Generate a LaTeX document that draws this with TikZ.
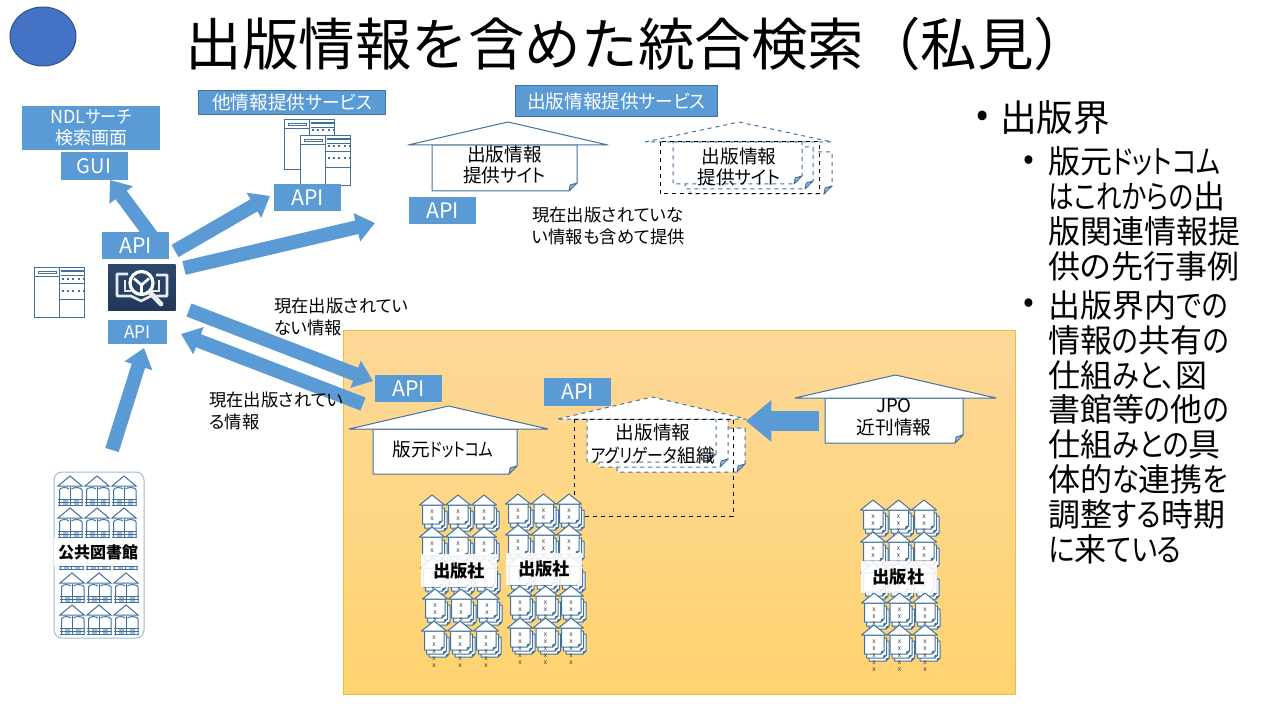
\documentclass[tikz,border=0pt]{standalone}
\usepackage{fontspec}
\usepackage{graphicx}
\setmainfont[RawFeature={+palt}]{Noto Sans CJK JP}
\newfontfamily\titlefont{Noto Sans CJK JP}
\usepackage{xcolor}
\usetikzlibrary{arrows.meta,calc}

\definecolor{boxblue}{RGB}{91,155,213}
\definecolor{edgeblue}{RGB}{65,113,156}
\definecolor{foldblue}{RGB}{160,185,215}
\definecolor{panelline}{RGB}{160,185,215}
\definecolor{markblue}{RGB}{68,114,196}
\definecolor{markedge}{RGB}{47,82,143}
\definecolor{logowhite}{RGB}{232,236,240}

\newcommand{\fs}[2]{\fontsize{#1}{#2}\selectfont}
% narrow kana
\newcommand{\kn}[2][0.8]{\scalebox{#1}[1]{#2}}

% page with a turned corner: x0,y0,x1,y1
\def\foldsize{8}
\newcommand{\foldpage}[5][]{
    \draw [pageline,#1] (#2,#3) -- (#4,#3) -- (#4,#5-\foldsize) -- (#4-\foldsize,#5) -- (#2,#5) -- cycle;
    \draw [pageline,fill=foldblue,solid] (#4,#5-\foldsize) -- (#4-\foldsize*0.85,#5-\foldsize*0.75) -- (#4-\foldsize,#5) -- cycle;
}
% roof: left,right,base,apex
\newcommand{\roofline}[5][]{
    \draw [pageline,#1] (#2,#4) -- ({(#2+#3)/2},#5) -- (#3,#4) -- cycle;
}

\tikzset{
    pageline/.style={draw=edgeblue,fill=white,line width=0.75pt,line join=round},
    apibox/.style={fill=boxblue,text=white,inner sep=0pt,minimum width=50.25pt,minimum height=20.25pt,font=\fs{16}{18}},
    headbox/.style={fill=boxblue,draw=edgeblue,line width=0.75pt,text=white,inner sep=0pt,font=\fs{14}{16}},
    fatarrow/.style={draw=boxblue,line width=10.5pt,-{Triangle[length=14pt,width=21pt]}},
    sitetext/.style={align=center,inner sep=0pt,font=\fs{14}{15.75}},
    notetext/.style={align=left,anchor=west,inner sep=0pt,font=\fs{13}{16.5}},
    sidetext/.style={align=left,anchor=west,inner sep=0pt,font=\fs{24}{26.1}},
    groupname/.style={fill=white,fill opacity=0.88,text opacity=1,inner sep=0pt,font=\fs{13}{15}\bfseries},
    pubicon/.pic={
        \def\foldsize{3}
        \foldpage{-5}{16}{15}{36}
        \foldpage{-7.5}{13}{12.5}{33}
        \foldpage{-9.5}{10}{10}{29}
        \roofline{-12.5}{12.5}{10}{0}
        \node (-marks) at (0,31) [align=center,inner sep=0pt,text=black!75,font=\fs{5}{5.25}] {x\\x\\x\\x\\x};
    },
    libicon/.pic={
        \fill [foldblue] (-7,23.5) rectangle (-2,29) (4,23.5) rectangle (9,29);
        \draw [edgeblue,line width=0.75pt] (-12,10) -- (0,0) -- (12,10) -- cycle;
        \draw [edgeblue,line width=0.75pt] (-10.5,30) -- (-10.5,14) .. controls (-10.5,11) and (-2,11) .. (-1,13);
        \draw [edgeblue,line width=0.75pt] (1.5,13) .. controls (2.5,11) and (12,11) .. (12,14) -- (12,30);
        \draw [edgeblue,line width=1.2pt] (0.3,11) -- (0.3,30);
        \draw [edgeblue,line width=0.6pt] (-12,23.5) -- (13,23.5) (-12,26.5) -- (13,26.5) (-12,29.5) -- (13,29.5);
    },
    winicon/.pic={
        \draw [edgeblue,fill=white,line width=0.75pt] (0,0) rectangle (50,50);
        \draw [edgeblue,line width=0.75pt] (25,0) -- (25,50) (0,9) -- (25,9) (25,32) -- (50,32) (25,16) -- (50,16);
        \draw [edgeblue,line width=0.6pt] (4,3.5) rectangle (22,6.3);
        \draw [edgeblue,line width=1.5pt] (26,3.5) -- (49,3.5);
        \draw [edgeblue,line width=0.6pt] (26,7.7) -- (49,7.7);
        \draw [edgeblue,line width=1.5pt,dash pattern=on 1.5pt off 2.5pt] (27,11) -- (49,11) (27,23) -- (49,23);
    },
}

\begin{document}
\begin{tikzpicture}[x=0.75pt,y=-0.75pt]
    \useasboundingbox (0,0) rectangle (1280,720);

    % Title and mark
    \draw [fill=markblue,draw=markedge,line width=0.75pt] (43,36.5) ellipse (33 and 29.5);
    \node (title) at (638,44) [inner sep=0pt,font=\titlefont\fs{42.4}{46}] {出版情報を含めた統合検索（私見）};

    % Orange area
    \shade [top color={rgb,255:red,253;green,216;blue,152},bottom color={rgb,255:red,255;green,211;blue,112},draw={rgb,255:red,240;green,185;blue,70},line width=0.75pt] (343.5,330.5) rectangle (1015,694.5);

    % Arrow ends
    \coordinate (guistart) at (153,238);
    \coordinate (guiend) at (110,180);
    \coordinate (otherstart) at (175,251);
    \coordinate (otherend) at (270,196);
    \coordinate (sitestart) at (184,268);
    \coordinate (siteend) at (375,223);
    \coordinate (pubstart) at (189,310);
    \coordinate (pubend) at (373,381);
    \coordinate (backstart) at (363,404);
    \coordinate (backend) at (181,334);
    \coordinate (libstart) at (112,450);
    \coordinate (libend) at (144,348);
    \coordinate (jpostart) at (819,421);
    \coordinate (jpoend) at (746,421);

    \draw [fatarrow] (guistart) -- (guiend);
    \draw [fatarrow] (otherstart) -- (otherend);
    \draw [fatarrow] (sitestart) -- (siteend);
    \draw [fatarrow] (pubstart) -- (pubend);
    \draw [fatarrow] (backstart) -- (backend);
    \draw [fatarrow] (libstart) -- (libend);
    \draw [draw=boxblue,line width=15pt,-{Triangle[length=19pt,width=30pt]}] (jpostart) -- (jpoend);

    % Left column
    \node (ndlhead) at (91,128) [fill=boxblue,text=white,inner sep=0pt,minimum width=103.5pt,minimum height=33pt,align=center,font=\fs{13.5}{15.5}] {NDL\kn[0.9]{サーチ}\\検索画面};
    \node (gui) at (94,166) [apibox,minimum height=21pt,font=\fs{15}{18}] {GUI};
    \node (apitop) at (135.5,245.5) [apibox] {API};
    \node (apilow) at (137.5,332) [apibox,minimum width=44.25pt,minimum height=18pt,font=\fs{13}{15}] {API};
    \pic at (34.5,267.5) {winicon};

    % Search logo
    \shade [top color={rgb,255:red,45;green,72;blue,107},bottom color={rgb,255:red,33;green,56;blue,90}] (108,264) rectangle (175.5,310);
    \draw [logowhite,line width=2pt,line join=round] (128,274) -- (117,274) -- (117,296) -- (131,296) -- (141,301) -- (151,296) -- (167,296) -- (167,275) -- (156,275);
    \draw [logowhite,line width=1.2pt] (125,280) -- (125,291) -- (131,291);
    \draw [logowhite,line width=1.2pt] (159,280) -- (159,291) -- (152,291);
    \draw [white,line width=2.4pt] (141.5,283) circle (11.5);
    \draw [white,line width=2pt] (141.5,285) -- (141.5,294) (141.5,285) -- (134,278.5) (141.5,285) -- (149,278.5);
    \draw [logowhite,line width=3.6pt,line cap=round] (150,292.5) -- (161,304);

    % Other services
    \node (otherhead) at (292,102.5) [headbox,minimum width=140pt,minimum height=18pt] {他情報提供\kn[0.95]{サービス}};
    \pic at (284.5,119.5) {winicon};
    \pic at (300.5,135.5) {winicon};
    \node (otherapi) at (307.5,197.5) [apibox] {API};

    % Publication info services
    \node (sitehead) at (616.5,101) [headbox,minimum width=151pt,minimum height=23pt] {出版情報提供\kn[0.95]{サービス}};
    \foldpage{432}{145}{577}{191}
    \roofline{408}{608}{145}{122}
    \node (sitetxt) at (504.5,164.5) [sitetext] {出版情報\\提供\kn[0.93]{サイト}};
    \node (siteapi) at (442.5,210.5) [apibox] {API};

    \foldpage[dashed]{690}{152}{832}{194}
    \foldpage[dashed]{685}{147}{813}{189}
    \foldpage[dashed]{673}{142}{802}{184}
    \draw [pageline,dashed,fill=none] (645,142) -- (739,122) -- (832,142) -- cycle;
    \draw [black,dashed,line width=0.75pt] (660,142) rectangle (819,194);
    \node (site2txt) at (739,167) [sitetext] {出版情報\\提供\kn[0.93]{サイト}};
    \node (sitenote) at (532,226) [notetext] {現在出版されていな\\い情報も含めて提供};

    % Notes on the arrows
    \node (notnow) at (274,317) [notetext] {現在出版されてい\\ない情報};
    \node (now) at (209,410.5) [notetext] {現在出版されてい\\る情報};

    % Hanmoto
    \node (pubapi) at (408.5,388.5) [apibox] {API};
    \foldpage{373}{429}{517}{474}
    \roofline{349}{548}{429}{406}
    \node (pubtxt) at (443,449) [sitetext] {版元\kn{ドットコム}};

    % Aggregator
    \node (aggapi) at (577.5,392) [apibox,minimum height=21pt] {API};
    \foldpage[dashed]{617}{428}{745}{472}
    \foldpage[dashed]{599}{419}{728}{467}
    \foldpage[dashed]{587}{419}{716}{462}
    \draw [pageline,dashed] (558,419) -- (652,397) -- (746,419) -- cycle;
    \node (aggtxt) at (653,443.5) [sitetext,font=\fs{14}{17.25}] {出版情報\\\kn[0.85]{アグリゲータ}組織};

    % JPO
    \foldpage{825}{398}{963}{443}
    \roofline{795}{996}{398}{375}
    \node (jpotxt) at (894,417) [sitetext,font=\fs{14}{16.5}] {JPO\\近刊情報};

    % Publisher groups
    \foreach \rx/\ry in {432/495,432/527,433/558,435/589,434/621}
        \foreach \c in {0,26,52}
            \pic at (\rx+\c,\ry) {pubicon};
    \foreach \rx/\ry in {518/494,518/525,519/556,520/586,520/618}
        \foreach \c in {0,25.5,51}
            \pic at (\rx+\c,\ry) {pubicon};
    \foreach \rx/\ry in {873/500,873/532,873/563,874/593,874/625}
        \foreach \c in {0,25.5,51}
            \pic at (\rx+\c,\ry) {pubicon};

    \coordinate (aggleft) at (574,419);
    \coordinate (aggleftend) at (574,495);
    \coordinate (aggright) at (733,419);
    \coordinate (aggcorner) at (733,516);
    \coordinate (aggrightend) at (583,516);
    \draw [black,dashed,line width=0.75pt] (aggleft) -- (aggright) -- (aggcorner) -- (aggrightend);
    \draw [black,dashed,line width=0.75pt] (aggleft) -- (aggleftend);

    \node (pubname1) at (459,570.5) [groupname,minimum width=57pt,minimum height=24.5pt] {出版社};
    \node (pubname2) at (544,569) [groupname,minimum width=57pt,minimum height=24.5pt] {出版社};
    \node (pubname3) at (898.5,576.5) [groupname,minimum width=57pt,minimum height=24pt] {出版社};

    % Public libraries
    \draw [panelline,fill=white,line width=0.75pt,rounded corners=6pt] (54,472) rectangle (144,638);
    \foreach \rx/\ry in {70/476,70/508,71/540,72/573,72/605}
        \foreach \c in {0,27,54}
            \pic at (\rx+\c,\ry) {libicon};
    \node (libname) at (98,552) [fill=white,fill opacity=0.95,text opacity=1,inner sep=0pt,minimum width=66pt,minimum height=21pt,font=\fs{12}{14}\bfseries] {公共図書館};

    % Right column
    \node (bull1) at (983,119) [inner sep=0pt,font=\fs{27}{30}] {•};
    \node (side1) at (1000,118) [anchor=west,inner sep=0pt,font=\fs{27.5}{30}] {出版界};
    \node (bull2) at (1029,163) [inner sep=0pt,font=\fs{24}{26}] {•};
    \node (side2) at (1048,214) [sidetext] {版元\kn{ドットコム}\\\kn{はこれからの}出\\版関連情報提\\供の先行事例};
    \node (bull3) at (1029,306) [inner sep=0pt,font=\fs{24}{26}] {•};
    \node (side3) at (1048,427) [sidetext] {出版界内\kn[0.85]{での}\\情報\kn[0.85]{の}共有\kn[0.85]{の}\\仕組\kn[0.85]{みと、}図\\書館等\kn[0.85]{の}他\kn[0.85]{の}\\仕組\kn[0.85]{みとの}具\\体的\kn[0.85]{な}連携\kn[0.85]{を}\\調整\kn[0.85]{する}時期\\\kn[0.85]{に}来\kn[0.85]{ている}};
\end{tikzpicture}
\end{document}
